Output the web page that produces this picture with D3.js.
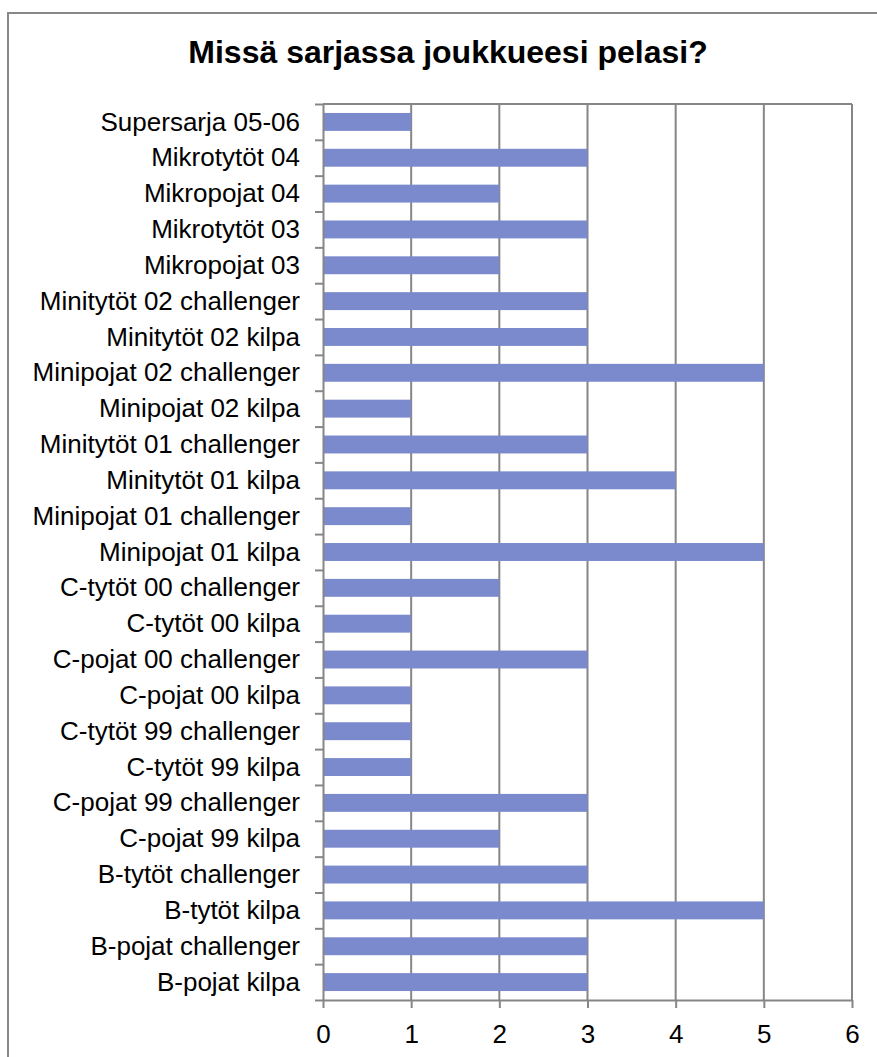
<!DOCTYPE html>
<html>
<head>
<meta charset="utf-8">
<script src="https://cdn.jsdelivr.net/npm/d3@7"></script>
<style>
  body { margin: 0; background: #fff; }
  svg { font-family: "Liberation Sans", Arial, sans-serif; }
  .axis path, .axis line { stroke: #868686; stroke-width: 2; }
  .axis text { fill: #000; font-size: 26px; }
</style>
</head>
<body>
<svg id="chart" width="877" height="1057"></svg>
<script>
const categories = [
  "Supersarja 05-06", "Mikrotytöt 04", "Mikropojat 04", "Mikrotytöt 03",
  "Mikropojat 03", "Minitytöt 02 challenger", "Minitytöt 02 kilpa",
  "Minipojat 02 challenger", "Minipojat 02 kilpa", "Minitytöt 01 challenger",
  "Minitytöt 01 kilpa", "Minipojat 01 challenger", "Minipojat 01 kilpa",
  "C-tytöt 00 challenger", "C-tytöt 00 kilpa", "C-pojat 00 challenger",
  "C-pojat 00 kilpa", "C-tytöt 99 challenger", "C-tytöt 99 kilpa",
  "C-pojat 99 challenger", "C-pojat 99 kilpa", "B-tytöt challenger",
  "B-tytöt kilpa", "B-pojat challenger", "B-pojat kilpa"
];
const values = [1, 3, 2, 3, 2, 3, 3, 5, 1, 3, 4, 1, 5, 2, 1, 3, 1, 1, 1, 3, 2, 3, 5, 3, 3];
const xTicks = [0, 1, 2, 3, 4, 5, 6];
const title = "Missä sarjassa joukkueesi pelasi?";

const margin = { top: 104, left: 323, right: 25, bottom: 57 };
const width = 877, height = 1057;
const w = width - margin.left - margin.right;
const h = height - margin.top - margin.bottom;

const svg = d3.select("#chart");

// outer frame (runs off the right and bottom edges)
svg.append("rect")
  .attr("x", 8).attr("y", 13)
  .attr("width", 900).attr("height", 1100)
  .attr("fill", "none")
  .attr("stroke", "#888")
  .attr("stroke-width", 2);

svg.append("text")
  .attr("x", 448).attr("y", 63)
  .attr("text-anchor", "middle")
  .attr("font-size", "32px")
  .attr("font-weight", "bold")
  .text(title);

const g = svg.append("g")
  .attr("transform", "translate(" + margin.left + "," + margin.top + ")");

const x = d3.scaleLinear().domain([0, 6]).range([0, w]);
const y = d3.scaleBand().domain(categories).range([0, h])
  .paddingInner(0.5).paddingOuter(0.25);
const yIdx = d3.scaleLinear().domain([0, categories.length]).range([0, h]);

// vertical gridlines
g.append("g")
  .selectAll("line")
  .data(xTicks.slice(1))
  .join("line")
  .attr("x1", d => x(d)).attr("x2", d => x(d))
  .attr("y1", 0).attr("y2", h)
  .attr("stroke", "#868686")
  .attr("stroke-width", 2);

// top border line of plot area
g.append("line")
  .attr("x1", 0).attr("x2", w)
  .attr("y1", 0).attr("y2", 0)
  .attr("stroke", "#868686")
  .attr("stroke-width", 2);

g.append("g")
  .selectAll("rect")
  .data(values)
  .join("rect")
  .attr("x", 0)
  .attr("y", (d, i) => y(categories[i]))
  .attr("width", d => x(d))
  .attr("height", y.bandwidth())
  .attr("fill", "#7a8acd");

// x axis
g.append("g")
  .attr("class", "axis")
  .attr("transform", "translate(0," + h + ")")
  .call(d3.axisBottom(x).tickValues(xTicks).tickFormat(d3.format("d"))
    .tickSize(8).tickSizeOuter(0).tickPadding(17));

// y axis ticks between categories
g.append("g")
  .attr("class", "axis")
  .call(d3.axisLeft(yIdx).tickValues(d3.range(categories.length + 1))
    .tickSize(8).tickSizeOuter(0).tickFormat(""));

// category labels
g.append("g")
  .attr("class", "axis labels")
  .call(d3.axisLeft(y).tickSize(0).tickPadding(23))
  .call(s => s.select(".domain").remove())
  .selectAll("text").attr("dy", "0.33em");
</script>
</body>
</html>
